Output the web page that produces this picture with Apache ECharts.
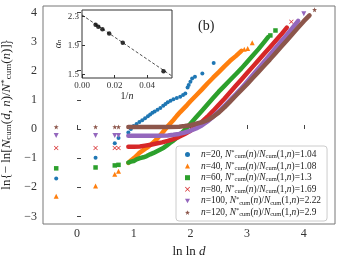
<!DOCTYPE html>
<html><head><meta charset="utf-8">
<script src="https://cdn.jsdelivr.net/npm/echarts@6/dist/echarts.min.js"></script>
<style>html,body{margin:0;padding:0;background:#fff}#c{width:342px;height:263px}</style>
</head><body><div id="c"></div>
<script>
// ---------- data ----------
const nValues = [20, 40, 60, 80, 100, 120];
const ratios = ['1.04', '1.08', '1.3', '1.69', '2.22', '2.9'];
const colors = ['#1f77b4', '#ff7f0e', '#2ca02c', '#d62728', '#9467bd', '#8c564b'];

// isolated points (scatter) per series
const pts20 = [[-0.367,-1.70],[0.327,-0.99],[0.666,-0.49],[0.732,-0.31],[0.905,-0.12],[0.95,0.0],[1.0,0.10],[1.05,0.17],[1.10,0.24],[1.15,0.30],[1.20,0.37],[1.25,0.44],[1.29,0.50],[1.33,0.56],[1.37,0.60],[1.42,0.66],[1.47,0.72],[1.52,0.80],[1.56,0.86],[1.60,0.92],[1.65,0.97],[1.70,1.02],[1.76,1.06],[1.82,1.11],[1.87,1.17],[1.91,1.22],[1.95,1.42],[1.97,1.51],[2.00,1.62],[2.03,1.73],[2.08,1.79],[2.21,1.90],[2.41,2.26]];
const pts40 = [[-0.367,-2.31],[0.327,-1.96],[0.666,-1.55],[0.732,-1.45],[2.95,2.74],[3.01,2.76],[3.09,2.96]];
const pts60 = [[-0.367,-1.35],[0.327,-1.32],[0.666,-1.25],[0.732,-1.23],[3.41,3.21],[3.50,3.38]];
const pts80 = [[-0.367,-0.65],[0.327,-0.65],[0.666,-0.65],[0.732,-0.65],[3.78,3.68]];
const pts100 = [[-0.367,-0.22],[0.327,-0.22],[0.666,-0.22],[0.732,-0.22],[4.0,3.95]];
const pts120 = [[-0.367,0.07],[0.327,0.07],[0.666,0.07],[0.732,0.07],[4.19,4.09]];

// dense runs of points (drawn as thick bands)
const run40 = [[0.905,-1.16],[0.95,-1.08],[1.01,-0.99],[1.06,-0.90],[1.10,-0.82],[1.15,-0.75],[1.20,-0.68],[1.25,-0.62],[1.29,-0.55],[1.35,-0.46],[1.41,-0.34],[1.47,-0.21],[1.53,-0.07],[1.58,0.05],[1.64,0.18],[1.70,0.31],[1.76,0.45],[1.82,0.58],[1.88,0.70],[1.94,0.82],[2.0,0.95],[2.1,1.15],[2.2,1.35],[2.3,1.56],[2.4,1.76],[2.5,1.95],[2.6,2.15],[2.7,2.34],[2.8,2.50],[2.9,2.68]];
const run60 = [[0.905,-1.15],[0.95,-1.12],[1.0,-1.10],[1.05,-1.04],[1.11,-1.0],[1.17,-0.97],[1.23,-0.93],[1.29,-0.87],[1.35,-0.82],[1.41,-0.76],[1.47,-0.70],[1.53,-0.64],[1.58,-0.57],[1.64,-0.48],[1.70,-0.40],[1.76,-0.30],[1.82,-0.18],[1.88,-0.07],[1.94,0.05],[2.0,0.18],[2.1,0.40],[2.2,0.62],[2.3,0.84],[2.4,1.06],[2.5,1.28],[2.6,1.48],[2.7,1.68],[2.8,1.88],[2.9,2.08],[3.0,2.30],[3.1,2.52],[3.2,2.74],[3.3,2.98],[3.37,3.15]];
const run80 = [[0.905,-0.61],[1.0,-0.61],[1.11,-0.60],[1.2,-0.57],[1.3,-0.54],[1.4,-0.50],[1.5,-0.46],[1.6,-0.41],[1.7,-0.35],[1.8,-0.27],[1.9,-0.17],[2.0,-0.06],[2.1,0.08],[2.2,0.24],[2.3,0.42],[2.4,0.62],[2.5,0.83],[2.6,1.04],[2.7,1.26],[2.8,1.48],[2.9,1.70],[3.0,1.92],[3.1,2.14],[3.2,2.36],[3.3,2.58],[3.4,2.80],[3.5,3.02],[3.6,3.24],[3.7,3.48]];
const run100 = [[0.905,-0.23],[1.0,-0.23],[1.2,-0.23],[1.4,-0.23],[1.6,-0.22],[1.7,-0.20],[1.8,-0.17],[1.9,-0.12],[2.0,-0.06],[2.1,0.02],[2.2,0.12],[2.3,0.26],[2.4,0.42],[2.5,0.60],[2.6,0.79],[2.7,0.99],[2.8,1.19],[2.9,1.40],[3.0,1.62],[3.1,1.85],[3.2,2.08],[3.3,2.31],[3.4,2.54],[3.5,2.77],[3.6,3.0],[3.7,3.23],[3.8,3.47],[3.9,3.71]];
const run120 = [[0.905,0.07],[1.0,0.07],[1.2,0.07],[1.4,0.07],[1.6,0.07],[1.8,0.08],[1.9,0.10],[2.0,0.13],[2.1,0.18],[2.2,0.23],[2.3,0.30],[2.4,0.42],[2.5,0.56],[2.6,0.74],[2.7,0.94],[2.8,1.14],[2.9,1.34],[3.0,1.54],[3.1,1.75],[3.2,1.96],[3.3,2.17],[3.4,2.38],[3.5,2.60],[3.6,2.82],[3.7,3.04],[3.8,3.26],[3.9,3.48],[4.0,3.70],[4.1,3.90]];

// inset: alpha_n vs 1/n
const insetX = [1/120, 1/100, 1/80, 1/60, 1/40, 1/20];
const insetY = [2.188, 2.160, 2.128, 2.067, 1.940, 1.546];
const fitX = [0.0, 0.0552];
const fitY = [2.324, 1.48];

const xTicks = [0, 1, 2, 3, 4];
const yTicks = [-3, -2, -1, 0, 1, 2, 3, 4];
const insetXTicks = [0, 0.02, 0.04];
const insetYTicks = [1.5, 1.9, 2.3];
// -------------------------------------------------

const FONT = 'Liberation Serif';
const X_SYM = 'path://M0,1L1,0L5,4L9,0L10,1L6,5L10,9L9,10L5,6L1,10L0,9L4,5Z';
const STAR_SYM = 'path://M5,0L6.2,3.4L10,3.5L7,5.8L8.1,9.5L5,7.3L1.9,9.5L3,5.8L0,3.5L3.8,3.4Z';
const symbols = ['circle', 'triangle', 'rect', X_SYM, 'path://M0,0L10,0L5,9Z', STAR_SYM];
const symSizes = [4, 5, 4.5, 4.5, 5, 5];
const ptsAll = [pts20, pts40, pts60, pts80, pts100, pts120];
const runsAll = [null, run40, run60, run80, run100, run120];
const names = nValues.map(n => 'n' + n);

const series = [];
for (let i = 0; i < 6; i++) {
  if (runsAll[i]) {
    series.push({
      type: 'line', name: names[i] + '_run', data: runsAll[i], xAxisIndex: 0, yAxisIndex: 0,
      showSymbol: false, smooth: false, z: 2 + i,
      lineStyle: { color: colors[i], width: 4.5, cap: 'round', join: 'round' },
      itemStyle: { color: colors[i] }, silent: true
    });
  }
  series.push({
    type: 'scatter', name: names[i], data: ptsAll[i], xAxisIndex: 0, yAxisIndex: 0,
    symbol: symbols[i], symbolSize: symSizes[i], z: 2 + i,
    itemStyle: { color: colors[i], opacity: 1 }
  });
}
series.push({
  type: 'line', data: fitX.map((x, k) => [x, fitY[k]]), xAxisIndex: 1, yAxisIndex: 1,
  showSymbol: false, lineStyle: { color: '#222', width: 0.8, type: [3, 2] }, z: 20, silent: true
});
series.push({
  type: 'scatter', data: insetX.map((x, k) => [x, insetY[k]]), xAxisIndex: 1, yAxisIndex: 1,
  symbol: 'circle', symbolSize: 4.5, itemStyle: { color: '#000' }, z: 21
});

const LFS = 9.4;
const legendRich = {
  t: { fontFamily: FONT, fontSize: LFS, color: '#222', lineHeight: 11 },
  i: { fontFamily: FONT, fontSize: LFS, fontStyle: 'italic', color: '#222', lineHeight: 11 },
  sub: { fontFamily: FONT, fontSize: 6.5, color: '#222', verticalAlign: 'bottom', lineHeight: 11 },
  sup: { fontFamily: FONT, fontSize: 6.5, color: '#222', verticalAlign: 'top', lineHeight: 11 }
};
const axisRich = {
  t: { fontFamily: FONT, fontSize: 13, color: '#222' },
  i: { fontFamily: FONT, fontSize: 13, fontStyle: 'italic', color: '#222' },
  sub: { fontFamily: FONT, fontSize: 9, color: '#222', verticalAlign: 'bottom' },
  sup: { fontFamily: FONT, fontSize: 9, color: '#222', verticalAlign: 'top' }
};

const option = {
  animation: false,
  backgroundColor: '#fff',
  grid: [
    { left: 43, right: 7, top: 6, bottom: 39, show: true, borderColor: '#777', borderWidth: 1, backgroundColor: 'transparent', containLabel: false, outerBoundsMode: 'none' },
    { left: 82, top: 10, width: 90, height: 68, show: true, borderColor: '#333', borderWidth: 1, backgroundColor: '#fff', z: 15, containLabel: false, outerBoundsMode: 'none' }
  ],
  xAxis: [
    {
      type: 'value', gridIndex: 0, min: -0.6, max: 4.55,
      axisLine: { show: false }, splitLine: { show: false },
      axisTick: { show: true, inside: true, length: 4, customValues: xTicks, lineStyle: { color: '#444' } },
      axisLabel: { customValues: xTicks, margin: 4, fontFamily: FONT, fontSize: 12, color: '#333' },
      name: '{t|ln ln }{i|d}', nameLocation: 'middle', nameGap: 16,
      nameTextStyle: { rich: axisRich }
    },
    {
      type: 'value', gridIndex: 1, min: 0, max: 0.0552, z: 16,
      axisLine: { show: false }, splitLine: { show: false },
      axisTick: { show: true, inside: true, length: 3, customValues: insetXTicks, lineStyle: { color: '#333' } },
      axisLabel: { customValues: insetXTicks, margin: 3, fontFamily: FONT, fontSize: 9, color: '#333', formatter: v => v.toFixed(2) },
      name: '{t|1/}{i|n}', nameLocation: 'middle', nameGap: 11,
      nameTextStyle: { rich: { t: { fontFamily: FONT, fontSize: 10, color: '#222' }, i: { fontFamily: FONT, fontSize: 10, fontStyle: 'italic', color: '#222' } } }
    }
  ],
  yAxis: [
    {
      type: 'value', gridIndex: 0, min: -3.26, max: 4.22,
      axisLine: { show: false }, splitLine: { show: false },
      axisTick: { show: true, inside: true, length: 4, customValues: yTicks, lineStyle: { color: '#444' } },
      axisLabel: { customValues: yTicks, margin: 6, fontFamily: FONT, fontSize: 12, color: '#333', formatter: v => (v < 0 ? '\u2212' + (-v) : '' + v) },
      name: '{t|ln{\u2212 ln[}{i|N}{sub|cum}{t|(}{i|d}{t|, }{i|n}{t|)/}{i|N}{sup|*}{sub|cum}{t|(}{i|n}{t|)]\u007d}',
      nameLocation: 'middle', nameGap: 26, nameRotate: 90,
      nameTextStyle: { rich: axisRich }
    },
    {
      type: 'value', gridIndex: 1, min: 1.453, max: 2.393, z: 16,
      axisLine: { show: false }, splitLine: { show: false },
      axisTick: { show: true, inside: true, length: 3, customValues: insetYTicks, lineStyle: { color: '#333' } },
      axisLabel: { customValues: insetYTicks, margin: 3, fontFamily: FONT, fontSize: 9, color: '#333', formatter: v => v.toFixed(1) },
      name: '{i|\u03b1}{s|n}', nameLocation: 'middle', nameGap: 19, nameRotate: 90,
      nameTextStyle: { rich: { i: { fontFamily: FONT, fontSize: 10, fontStyle: 'italic', color: '#222' }, s: { fontFamily: FONT, fontSize: 7, fontStyle: 'italic', color: '#222', verticalAlign: 'bottom' } } }
    }
  ],
  legend: {
    left: 176, top: 146, orient: 'vertical',
    data: names.map((nm, i) => ({ name: nm, icon: symbols[i] })),
    itemWidth: 5, itemHeight: 5, itemGap: 0.6,
    padding: [3, 6, 3, 9],
    backgroundColor: '#fff', borderColor: '#ccc', borderWidth: 1, borderRadius: 3,
    selectedMode: false,
    textStyle: { rich: legendRich, padding: [0, 0, 0, 6] },
    formatter: function (nm) {
      const i = names.indexOf(nm);
      return '{i|n}{t|=' + nValues[i] + ', }{i|N}{sup|*}{sub|cum}{t|(}{i|n}{t|)/}{i|N}{sub|cum}{t|(1,}{i|n}{t|)=' + ratios[i] + '}';
    }
  },
  graphic: [
    { type: 'text', left: 198, top: 19, style: { text: '(b)', font: '14px "Liberation Serif"', fill: '#222' }, z: 30 }
  ],
  series: series
};

const chart = echarts.init(document.getElementById('c'), null, { renderer: 'canvas' });
chart.setOption(option);
</script></body></html>
